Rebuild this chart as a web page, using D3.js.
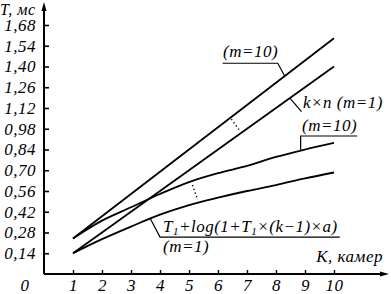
<!DOCTYPE html>
<html>
<head>
<meta charset="utf-8">
<script src="https://cdn.jsdelivr.net/npm/d3@7"></script>
<style>
  body { margin: 0; background: #fff; }
  svg text { font-family: "Liberation Serif", "Times New Roman", serif; font-style: italic; fill: #000; letter-spacing: 0.5px; }
</style>
</head>
<body>
<div id="chart"></div>
<script>
// data
const cameras = [1, 2, 3, 4, 5, 6, 7, 8, 9, 10];
const lineM10 = [0.24, 0.39, 0.54, 0.69, 0.84, 0.99, 1.14, 1.29, 1.44, 1.59];   // (m=10) straight
const lineKN = [0.14, 0.28, 0.42, 0.56, 0.70, 0.84, 0.98, 1.12, 1.26, 1.40];    // k x n (m=1)
const curveM10 = [0.24, 0.36, 0.45, 0.54, 0.62, 0.68, 0.73, 0.79, 0.84, 0.885]; // (m=10) log
const curveM1 = [0.14, 0.235, 0.32, 0.40, 0.465, 0.515, 0.56, 0.60, 0.645, 0.685]; // T1+log(...) (m=1)
const yTicks = [0.14, 0.28, 0.42, 0.56, 0.70, 0.84, 0.98, 1.12, 1.26, 1.40, 1.54, 1.68];
const yTickLabels = ["0,14", "0,28", "0,42", "0,56", "0,70", "0,84", "0,98", "1,12", "1,26", "1,40", "1,54", "1,68"];

const width = 391, height = 294;
const fontSize = 17;

const svg = d3.select("#chart").append("svg")
    .attr("width", width)
    .attr("height", height);

const xScale = d3.scaleLinear().domain([0, 10]).range([44, 334]);
const yScale = d3.scaleLinear().domain([0, 1.68]).range([274, 25]);

// y axis
const yAxis = svg.append("g")
    .attr("transform", `translate(${xScale(0)},0)`)
    .call(d3.axisLeft(yScale)
        .tickValues(yTicks)
        .tickFormat((d, i) => yTickLabels[i])
        .tickSizeInner(-5)
        .tickSizeOuter(0)
        .tickPadding(8));
yAxis.select(".domain").remove();
yAxis.selectAll(".tick line").attr("stroke", "#000").attr("stroke-width", 1.6);
yAxis.selectAll("text")
    .attr("font-family", null)
    .style("font-size", fontSize + "px");

// x axis
const xAxis = svg.append("g")
    .attr("transform", `translate(0,${yScale(0)})`)
    .call(d3.axisBottom(xScale)
        .tickValues(cameras)
        .tickFormat(d3.format("d"))
        .tickSizeInner(-4)
        .tickSizeOuter(0)
        .tickPadding(5));
xAxis.select(".domain").remove();
xAxis.selectAll(".tick line").attr("stroke", "#000").attr("stroke-width", 1.4);
xAxis.selectAll("text")
    .attr("font-family", null)
    .style("font-size", fontSize + "px");

// origin label
svg.append("text")
    .attr("x", xScale(0) - 19)
    .attr("y", yScale(0) + 17)
    .attr("text-anchor", "middle")
    .style("font-size", fontSize + "px")
    .text("0");

// axis lines with arrows
svg.append("line")
    .attr("x1", xScale(0)).attr("y1", yScale(0))
    .attr("x2", xScale(0)).attr("y2", 8)
    .attr("stroke", "#000").attr("stroke-width", 2);
svg.append("path")
    .attr("d", `M${xScale(0)},2 L${xScale(0) - 2.5},11 L${xScale(0) + 2.5},11 Z`)
    .attr("fill", "#000");
svg.append("line")
    .attr("x1", xScale(0)).attr("y1", yScale(0))
    .attr("x2", 382).attr("y2", yScale(0))
    .attr("stroke", "#000").attr("stroke-width", 2);
svg.append("path")
    .attr("d", `M389,${yScale(0)} L380,${yScale(0) - 2.5} L380,${yScale(0) + 2.5} Z`)
    .attr("fill", "#000");

// axis titles
svg.append("text")
    .attr("x", 0).attr("y", 14.5)
    .style("font-size", "16px")
    .text("T, мс");
svg.append("text")
    .attr("x", 383).attr("y", 262)
    .attr("text-anchor", "end")
    .style("font-size", fontSize + "px")
    .text("K, камер");

// series lines
const line = d3.line()
    .x((d, i) => xScale(cameras[i]))
    .y(d => yScale(d));
const curve = d3.line()
    .x((d, i) => xScale(cameras[i]))
    .y(d => yScale(d))
    .curve(d3.curveMonotoneX);

[lineM10, lineKN].forEach(s => {
    svg.append("path").datum(s)
        .attr("d", line)
        .attr("fill", "none").attr("stroke", "#000").attr("stroke-width", 1.8);
});
[curveM10, curveM1].forEach(s => {
    svg.append("path").datum(s)
        .attr("d", curve)
        .attr("fill", "none").attr("stroke", "#000").attr("stroke-width", 1.8);
});

// annotations: leaders in data units [k, T]
function drawPath(pts, dash) {
    svg.append("path")
        .attr("d", d3.line()(pts.map(p => [xScale(p[0]), yScale(p[1])])))
        .attr("fill", "none")
        .attr("stroke", "#000")
        .attr("stroke-width", dash ? 1.4 : 1.2)
        .attr("stroke-dasharray", dash ? "1.3,2.6" : null);
}
drawPath([[8.30, 1.336], [8.06, 1.422], [6.16, 1.422]]);          // (m=10) top
drawPath([[8.48, 1.187], [8.88, 1.096]]);                        // k x n
drawPath([[8.85, 0.832], [8.85, 0.931], [10.8, 0.931]]);         // (m=10) curve
drawPath([[3.66, 0.376], [4.0, 0.249], [10.2, 0.249]]);          // T1 + log
drawPath([[6.46, 1.045], [6.74, 0.97]], true);                   // dotted between lines
drawPath([[5.12, 0.60], [5.30, 0.50]], true);                    // dotted between curves

function label(x, y, text) {
    return svg.append("text")
        .attr("x", x).attr("y", y)
        .style("font-size", fontSize + "px")
        .text(text);
}
label(223, 57, "(m=10)");
label(303, 108, "k×n (m=1)");
label(302, 131, "(m=10)");
label(163, 252, "(m=1)");

const formula = svg.append("text")
    .attr("x", 163).attr("y", 232)
    .style("font-size", fontSize + "px");
formula.append("tspan").text("T");
formula.append("tspan").attr("dy", 3).style("font-size", "11px").text("1");
formula.append("tspan").attr("dy", -3).text("+log(1+T");
formula.append("tspan").attr("dy", 3).style("font-size", "11px").text("1");
formula.append("tspan").attr("dy", -3).text("×(k−1)×a)");
</script>
</body>
</html>
